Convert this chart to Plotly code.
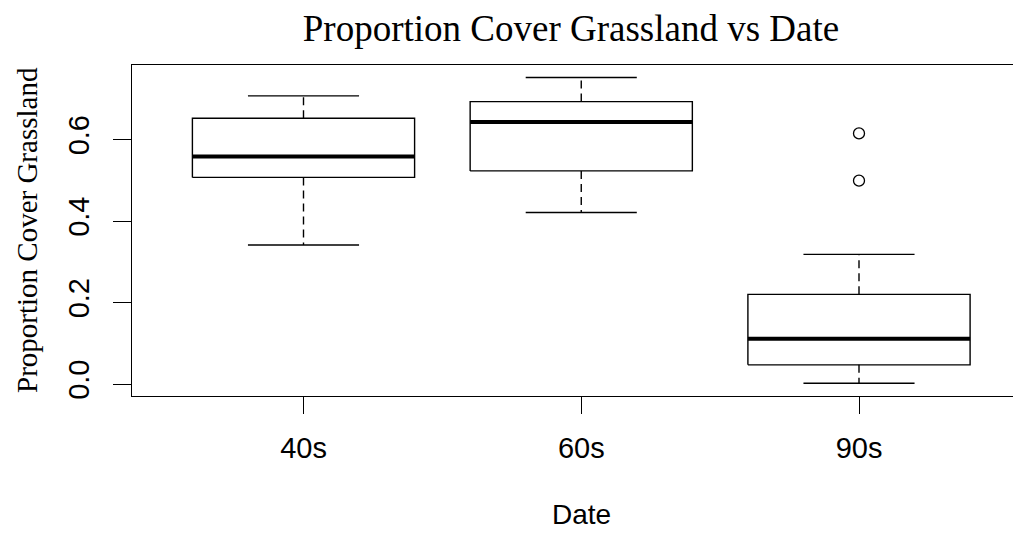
import plotly.graph_objects as go

categories = ["40s", "60s", "90s"]
lower_whisker = [0.341, 0.421, 0.002]
q1 = [0.507, 0.523, 0.047]
median = [0.558, 0.643, 0.111]
q3 = [0.652, 0.693, 0.220]
upper_whisker = [0.707, 0.752, 0.318]
outliers = {"90s": [0.615, 0.499]}
y_ticks = [0.0, 0.2, 0.4, 0.6]

BOX_HALF = 0.4
CAP_HALF = 0.2
LINE_W = 1.4

fig = go.Figure()
for i, cat in enumerate(categories):
    x = i + 1
    fig.add_trace(go.Scatter(
        x=[x - BOX_HALF, x + BOX_HALF, x + BOX_HALF, x - BOX_HALF, x - BOX_HALF],
        y=[q1[i], q1[i], q3[i], q3[i], q1[i]],
        mode="lines", line=dict(color="black", width=LINE_W),
        hoverinfo="skip", showlegend=False))
    fig.add_trace(go.Scatter(
        x=[x - BOX_HALF, x + BOX_HALF], y=[median[i], median[i]],
        mode="lines", line=dict(color="black", width=4),
        hoverinfo="skip", showlegend=False))
    fig.add_trace(go.Scatter(
        x=[x, x, None, x, x],
        y=[q3[i], upper_whisker[i], None, q1[i], lower_whisker[i]],
        mode="lines", line=dict(color="black", width=LINE_W, dash="8px,5px"),
        hoverinfo="skip", showlegend=False))
    fig.add_trace(go.Scatter(
        x=[x - CAP_HALF, x + CAP_HALF, None, x - CAP_HALF, x + CAP_HALF],
        y=[upper_whisker[i], upper_whisker[i], None, lower_whisker[i], lower_whisker[i]],
        mode="lines", line=dict(color="black", width=LINE_W),
        hoverinfo="skip", showlegend=False))
    if cat in outliers:
        pts = outliers[cat]
        fig.add_trace(go.Scatter(
            x=[x] * len(pts), y=pts, mode="markers",
            marker=dict(symbol="circle-open", size=11, color="black",
                        line=dict(width=1.3, color="black")),
            hoverinfo="skip", showlegend=False))

# page body has an 8px default margin; compensate so the figure fills the window
OFF = 8
W, H = 1021 - OFF, 537 - OFF
ML, MR, MT, MB = 132 - OFF, 0, 65 - OFF, 141
PW = W - ML - MR
PH = H - MT - MB
px_per_unit_x = 277.75
x0 = 1 - (303.5 - 132) / px_per_unit_x
x1 = x0 + PW / px_per_unit_x
px_per_unit_y = 407.5
y1 = (384 - 65) / px_per_unit_y
y0 = -(396 - 384) / px_per_unit_y

fig.update_layout(
    width=W, height=H,
    margin=dict(l=ML, r=MR, t=MT, b=MB, pad=0, autoexpand=False),
    paper_bgcolor="white", plot_bgcolor="white",
    title=dict(text="Proportion Cover Grassland vs Date",
               font=dict(family="Liberation Serif", size=37, color="black"),
               xref="container", x=(571 - OFF) / W, xanchor="center",
               yref="container", y=1 - (28 - OFF) / H, yanchor="middle"),
    xaxis=dict(range=[x0, x1], tickvals=[1, 2, 3], ticktext=categories,
               showgrid=False, zeroline=False,
               showline=True, mirror=True, linecolor="black", linewidth=1.4,
               ticks="outside", ticklen=17, tickwidth=1.4, tickcolor="black",
               ticklabelstandoff=9,
               tickfont=dict(family="Liberation Sans", size=29, color="black")),
    yaxis=dict(range=[y0, y1], tickvals=y_ticks,
               ticktext=[f"{v:.1f}" for v in y_ticks],
               showgrid=False, zeroline=False,
               showline=True, mirror=False, linecolor="black", linewidth=1.4,
               ticks="outside", ticklen=18, tickwidth=1.4, tickcolor="black",
               tickangle=-90, ticklabelstandoff=12,
               tickfont=dict(family="Liberation Sans", size=29, color="black")),
    annotations=[
        dict(text="Proportion Cover Grassland", textangle=-90,
             xref="paper", yref="paper",
             x=(27 - 132) / PW, y=(396 - 230) / PH,
             xanchor="center", yanchor="middle", showarrow=False, borderpad=0,
             font=dict(family="Liberation Serif", size=29, color="black")),
        dict(text="Date", xref="x", yref="paper", x=2,
             y=-(514 - 396) / PH,
             xanchor="center", yanchor="middle", showarrow=False,
             font=dict(family="Liberation Sans", size=28, color="black")),
    ],
)

fig.write_html("out.html")
